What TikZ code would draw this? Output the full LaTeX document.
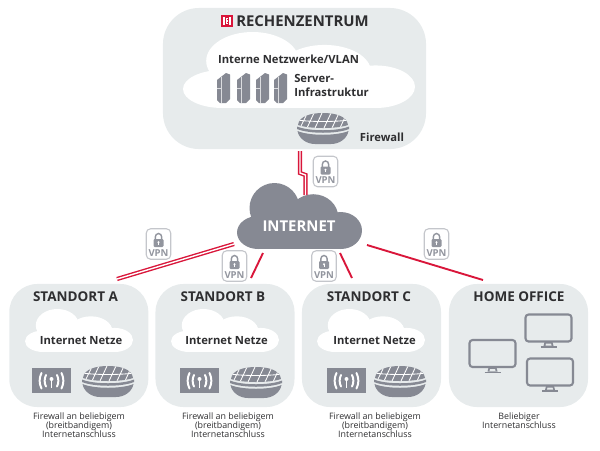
\documentclass[tikz,border=0pt]{standalone}
\usepackage{fontspec}
\setmainfont{Open Sans}
\usetikzlibrary{positioning}
\definecolor{boxgray}{HTML}{E7EBEC}
\definecolor{icongray}{HTML}{868993}
\definecolor{badgegray}{HTML}{C4C6CB}
\definecolor{vpngray}{HTML}{92959E}
\definecolor{textdark}{HTML}{2E2E30}
\definecolor{linered}{HTML}{D9163A}
\tikzset{
    sitebox/.style = {fill=boxgray, rounded corners=0.7cm, minimum width=3.475cm, minimum height=3.075cm, inner sep=0pt},
    rzbox/.style = {fill=boxgray, rounded corners=0.9cm, minimum width=6.575cm, minimum height=3.525cm, inner sep=0pt},
    sitetitle/.style = {font=\fontsize{9.6}{11}\selectfont\bfseries, text=textdark, inner sep=0pt},
    rztitle/.style = {font=\fontsize{10.6}{13}\selectfont\bfseries, text=textdark, inner sep=0pt},
    nettext/.style = {font=\fontsize{8}{9.3}\selectfont\bfseries, text=textdark, inner sep=0pt, align=left},
    captiontext/.style = {font=\fontsize{6.3}{6.4}\selectfont, text=textdark, inner sep=0pt, align=center},
    inettext/.style = {font=\fontsize{10.6}{13}\selectfont\bfseries, text=white, inner sep=0pt},
    vpnlabel/.style = {font=\fontsize{6.8}{8}\selectfont\bfseries, text=vpngray, inner sep=0pt},
    vpnbox/.style = {draw=badgegray, line width=0.8pt, rounded corners=3pt, minimum width=0.61cm, minimum height=0.76cm, inner sep=0pt},
    edgesingle/.style = {-,line width=1.35pt,linered},
    edgedouble/.style = {-,line width=1pt,linered,double=white,double distance=1pt},
    cloudpic/.pic = {
      \fill[pic actions] (.17,.75) circle[x radius=.17,y radius=.25];
      \fill[pic actions] (.83,.72) circle[x radius=.17,y radius=.28];
      \fill[pic actions] (.17,.5) rectangle (.83,1);
      \fill[pic actions] (.30,.38) circle[x radius=.2,y radius=.38];
      \fill[pic actions] (.61,.52) circle[x radius=.2,y radius=.35];
    },
    firewallpic/.pic = {
      \begin{scope}
        \clip (1,12) .. controls (2,3) and (14,0) .. (26,0) .. controls (38,0) and (50,3) .. (51,12) .. controls (40,16) and (12,16) .. (1,12) -- cycle;
        \fill[icongray] (0,0) rectangle (52,16);
        \draw[white,line width=0.6pt] (3,15) -- (10,1) (10,15) -- (17,0) (18,15) -- (25,0) (27,15) -- (34,0) (35,15) -- (42,0) (43,15) -- (49,2) (0,7) .. controls (14,9) and (38,9) .. (52,7);
      \end{scope}
      \fill[icongray] (0,13.5) .. controls (12,18.5) and (40,18.5) .. (52,13.5) -- (52,16) .. controls (40,21) and (12,21) .. (0,16) -- cycle;
      \fill[icongray] (0.5,18) .. controls (12,23) and (40,23) .. (51.5,18) .. controls (50,26) and (42,31) .. (34,31) -- (18,31) .. controls (10,31) and (2,26) .. (0.5,18) -- cycle;
    },
    wifipic/.pic = {
      \fill[icongray] (0,0) rectangle (39,25);
      \fill[white] (19.5,11) circle[radius=2];
      \draw[white,line width=1pt] (19.5,11) -- (19.5,20);
      \draw[white,line width=1.4pt,line cap=round] (14,7) .. controls (12.2,10.5) and (12.2,15) .. (14,18.5) (25,7) .. controls (26.8,10.5) and (26.8,15) .. (25,18.5);
      \draw[white,line width=1.4pt,line cap=round] (9.5,5) .. controls (7,10) and (7,15.5) .. (9.5,20.5) (29.5,5) .. controls (32,10) and (32,15.5) .. (29.5,20.5);
    },
    serverpic/.pic = {
      \fill[icongray] (0,7) -- (9,0) -- (13,1.5) -- (13,26) -- (9,30) -- (3,30) -- (0,27) -- cycle;
      \draw[white!70!icongray,line width=0.35pt] (4.5,4) -- (4.5,30) (0,15) -- (4.5,15);
    },
    monitorpic/.pic = {
      \draw[icongray,line width=1.5pt,rounded corners=2.2pt] (0,0) rectangle (46,27);
      \fill[icongray] (19,27.5) -- (27,27.5) -- (28,31.5) -- (18,31.5) -- cycle;
      \fill[boxgray] (20.5,29) -- (25.5,29) -- (26,31) -- (20,31) -- cycle;
      \draw[icongray,line width=0.9pt] (15,32.5) -- (31,32.5);
    },
    vpnbadge/.pic = {
      \node[vpnbox] (-box) at (0,0) {};
      \node[vpnlabel] (-text) at (0,9) {VPN};
      \draw[vpngray,line width=1pt] (-3.2,-4) -- (-3.2,-7) arc[start angle=180,end angle=360,x radius=3.2,y radius=3.5] -- (3.2,-4);
      \fill[vpngray,rounded corners=0.8pt] (-5,-5) rectangle (5,3);
      \fill[white] (0,-1.8) circle[radius=1.2];
      \draw[white,line width=0.7pt] (0,-1.8) -- (0,0.8);
    }
}
\begin{document}
\begin{tikzpicture}[x=0.025cm,y=-0.025cm]
  \useasboundingbox (0,0) rectangle (600,450);
  % boxes
  \node[rzbox] (rz) at (294.5,78.5) {};
  \node[sitebox] (sitea) at (78.8,345.5) {};
  \node[sitebox] (siteb) at (225,345.5) {};
  \node[sitebox] (sitec) at (371.5,345.5) {};
  \node[sitebox] (home) at (518.5,345.5) {};
  % clouds
  \pic[fill=white,xscale=232,yscale=76] (rzcloud) at (183,32) {cloudpic};
  \pic[fill=icongray,xscale=125,yscale=66] (inetcloud) at (237,183) {cloudpic};
  \pic[fill=white,xscale=108,yscale=43] (acloud) at (25,309) {cloudpic};
  \pic[fill=white,xscale=108,yscale=43] (bcloud) at (171,309) {cloudpic};
  \pic[fill=white,xscale=108,yscale=43] (ccloud) at (317,309) {cloudpic};
  % data centre
  \fill[linered] (221,15) rectangle (233,27);
  \draw[white,line width=0.8pt] (225,18) -- (224,18) -- (224,24) -- (225,24) (229,18) -- (230,18) -- (230,24) -- (229,24) (226.2,18.5) -- (228,18.5) (226.2,21) -- (228,21) (226.2,23.5) -- (228,23.5) (226.6,18) -- (226.6,24);
  \node[rztitle,anchor=west] (rztext) at (236,21.5) {RECHENZENTRUM};
  \node[nettext] (vlantext) at (288.5,59) {Interne Netzwerke/VLAN};
  \node[nettext,anchor=west] (servertext) at (294,85.5) {Server-\\Infrastruktur};
  \node[nettext] (fwtext) at (382,137) {Firewall};
  \pic (server1) at (217,73) {serverpic};
  \pic (server2) at (237,73) {serverpic};
  \pic (server3) at (256,73) {serverpic};
  \pic (server4) at (274,73) {serverpic};
  \pic (rzfw) at (297,113) {firewallpic};
  % internet
  \node[inettext] (inet) at (299,226) {INTERNET};
  % sites
  \node[sitetitle] (atitle) at (75.5,297) {STANDORT A};
  \node[sitetitle] (btitle) at (223,297) {STANDORT B};
  \node[sitetitle] (ctitle) at (369,297) {STANDORT C};
  \node[sitetitle] (htitle) at (519,297) {HOME OFFICE};
  \node[nettext] (anet) at (81,341) {Internet Netze};
  \node[nettext] (bnet) at (226.5,341) {Internet Netze};
  \node[nettext] (cnet) at (374.5,341) {Internet Netze};
  \pic (awifi) at (32,368) {wifipic};
  \pic (bwifi) at (180,368) {wifipic};
  \pic (cwifi) at (327,368) {wifipic};
  \pic (afw) at (82,366) {firewallpic};
  \pic (bfw) at (230,367) {firewallpic};
  \pic (cfw) at (374,366) {firewallpic};
  \pic (mon1) at (469.5,340) {monitorpic};
  \pic (mon2) at (525.5,314.5) {monitorpic};
  \pic (mon3) at (527,358.5) {monitorpic};
  \node[captiontext] (acap) at (79,425) {Firewall an beliebigem\\(breitbandigem)\\Internetanschluss};
  \node[captiontext] (bcap) at (228,425) {Firewall an beliebigem\\(breitbandigem)\\Internetanschluss};
  \node[captiontext] (ccap) at (375,425) {Firewall an beliebigem\\(breitbandigem)\\Internetanschluss};
  \node[captiontext] (hcap) at (519,420.5) {Beliebiger\\Internetanschluss};
  % line ends
  \coordinate (rzout) at (300,151);
  \coordinate (rzbend1) at (300,173);
  \coordinate (rzbend2) at (305.5,175);
  \coordinate (inetin) at (305.5,195);
  \coordinate (inetaout) at (234,244);
  \coordinate (ain) at (117,279);
  \coordinate (inetbout) at (263,253);
  \coordinate (bin) at (251,278);
  \coordinate (inetcout) at (340,253);
  \coordinate (cin) at (352,278);
  \coordinate (inethout) at (367,245);
  \coordinate (hin) at (483,280);
  \draw[edgedouble] (rzout) -- (rzbend1) -- (rzbend2) -- (inetin);
  \draw[edgedouble] (inetaout) -- (ain);
  \draw[edgesingle] (inetbout) -- (bin);
  \draw[edgesingle] (inetcout) -- (cin);
  \draw[edgesingle] (inethout) -- (hin);
  % badges
  \pic (vpnrz) at (325.5,171.5) {vpnbadge};
  \pic (vpna) at (158.5,244) {vpnbadge};
  \pic (vpnb) at (234.5,266) {vpnbadge};
  \pic (vpnc) at (324,266) {vpnbadge};
  \pic (vpnh) at (436.5,244) {vpnbadge};
\end{tikzpicture}
\end{document}
